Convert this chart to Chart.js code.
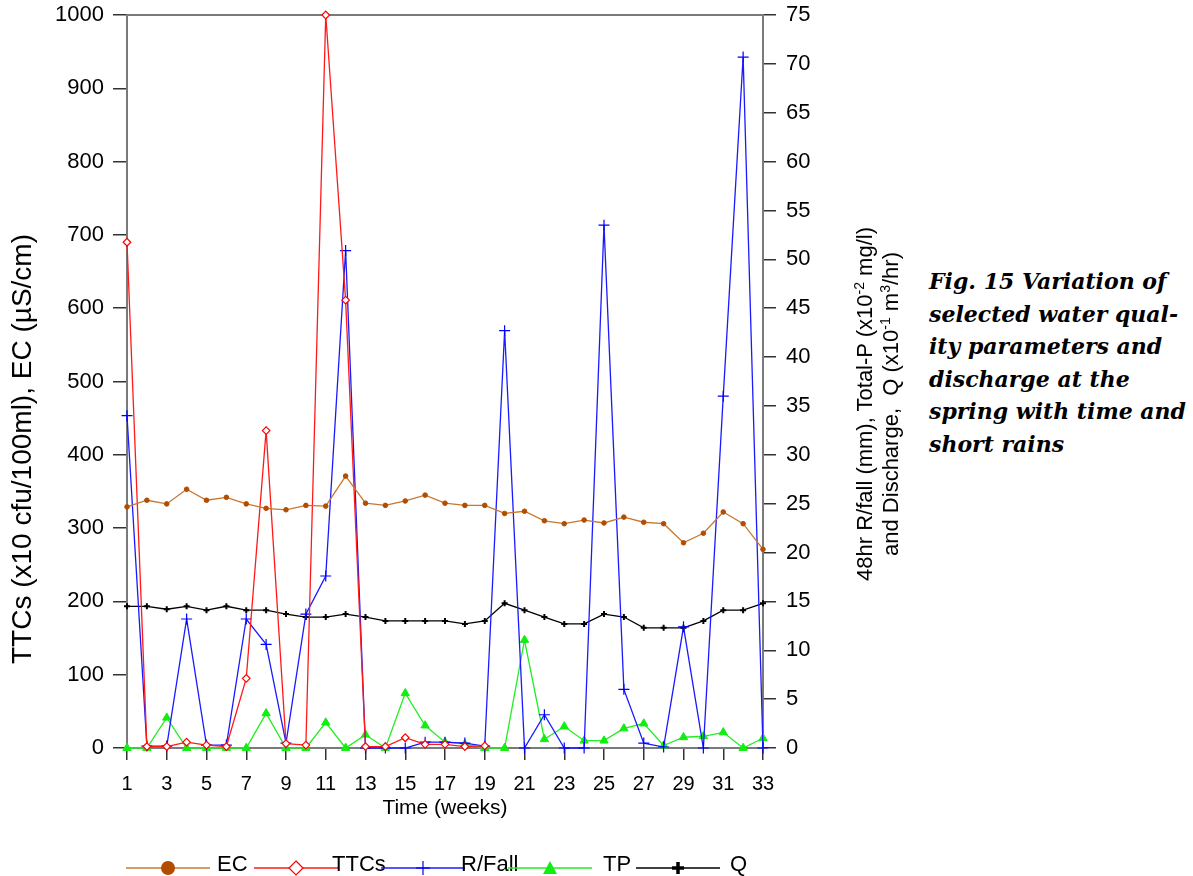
<!DOCTYPE html>
<html>
<head>
<meta charset="utf-8">
<script src="https://cdn.jsdelivr.net/npm/chart.js@4.4.1/dist/chart.umd.min.js"></script>
<style>
  body { margin: 0; background: #fff; font-family: "Liberation Sans", Arial, sans-serif; }
  #wrap { position: relative; width: 1193px; height: 876px; overflow: hidden; }
  #chart { position: absolute; left: 0; top: 0; }
  #leftTitle {
    position: absolute; width: 540px; left: -248px; top: 433px;
    font-size: 28px; line-height: 32px; text-align: center; color: #000;
    transform: rotate(-90deg); white-space: nowrap;
  }
  #rightTitle {
    position: absolute; width: 460px; left: 648px; top: 378px;
    font-size: 22px; line-height: 26px; text-align: center; color: #000;
    transform: rotate(-90deg); white-space: nowrap;
  }
  #rightTitle sup { font-size: 14px; line-height: 0; }
  #note {
    position: absolute; left: 929px; top: 265px; width: 270px;
    font-family: "DejaVu Serif", "Liberation Serif", serif;
    font-weight: bold; font-style: italic; font-size: 22px; line-height: 32.6px;
    color: #000; white-space: nowrap;
  }
  .lg-line { position: absolute; }
  .lg-text { position: absolute; font-size: 22px; line-height: 24px; color: #000; }
</style>
</head>
<body>
<div id="wrap">
  <canvas id="chart" width="920" height="876"></canvas>
  <div id="leftTitle">TTCs (x10 cfu/100ml), EC (&micro;S/cm)</div>
  <div id="rightTitle">48hr R/fall (mm), Total-P (x10<sup>-2</sup> mg/l)<br>and Discharge,&nbsp; Q (x10<sup>-1</sup> m<sup>3</sup>/hr)</div>
  <div id="note">Fig. 15 Variation of<br>selected water qual-<br>ity parameters and<br>discharge at the<br>spring with time and<br>short rains</div>
  <div id="legend"></div>
</div>
<script>
const weeks = [1, 2, 3, 4, 5, 6, 7, 8, 9, 10, 11, 12, 13, 14, 15, 16, 17,
  18, 19, 20, 21, 22, 23, 24, 25, 26, 27, 28, 29, 30, 31, 32, 33];

// left axis: EC (uS/cm), TTCs (x10 cfu/100ml)
const ecValues = [329, 338, 333, 353, 338, 342, 333, 327, 325, 331, 330, 371, 334, 331, 337, 345, 334,
  331, 331, 320, 323, 310, 306, 311, 307, 315, 308, 306, 280, 293, 322, 306, 271];
const ttcValues = [690, 2, 2, 8, 4, 2, 95, 433, 6, 4, 1000, 611, 2, 2, 14, 5, 5,
  2, 3, null, null, null, null, null, null, null, null, null, null, null, null, null, null];

// right axis: rainfall (mm), total P (x10^-2 mg/l), Q (x10^-1 m3/hr)
const rainValues = [34, 0.2, 0.2, 13.2, 0.3, 0.3, 13.2, 10.6, 0.5, 13.7, 17.6, 50.9, 0, 0, 0, 0.6, 0.6,
  0.5, 0.2, 42.7, 0, 3.4, 0, 0, 53.5, 6.0, 0.5, 0.1, 12.4, 0, 36, 70.7, 0];
const tpValues = [0, 0, 3.1, 0, 0, 0, 0, 3.55, 0, 0, 2.6, 0, 1.36, 0, 5.6, 2.3, 0.6,
  0.4, 0, 0, 11.05, 0.9, 2.2, 0.75, 0.75, 2.0, 2.5, 0.25, 1.1, 1.2, 1.6, 0, 1.0];
const qValues = [14.5, 14.5, 14.2, 14.5, 14.1, 14.5, 14.1, 14.1, 13.7, 13.4, 13.4, 13.7, 13.4, 13.0, 13.0, 13.0, 13.0,
  12.7, 13.0, 14.8, 14.1, 13.4, 12.7, 12.7, 13.7, 13.4, 12.3, 12.3, 12.3, 13.0, 14.1, 14.1, 14.8];

const leftTicks = { min: 0, max: 1000, step: 100 };
const rightTicks = { min: 0, max: 75, step: 5 };

function toPoints(values) {
  return values.map((v, i) => ({ x: weeks[i], y: v }));
}

const series = [
  { label: 'EC', values: ecValues, axis: 'yL', line: '#c8782e', mark: '#b24c00', style: 'circle', r: 2.3, bw: 1, fillMark: true },
  { label: 'TTCs', values: ttcValues, axis: 'yL', line: '#ff1a1a', mark: '#ff0000', style: 'rectRot', r: 3.8, bw: 1.2, fillMark: false },
  { label: 'R/Fall', values: rainValues, axis: 'yR', line: '#1a1aff', mark: '#0000ff', style: 'cross', r: 5.5, bw: 1.2, fillMark: false },
  { label: 'TP', values: tpValues, axis: 'yR', line: '#22ee22', mark: '#11ee11', style: 'triangle', r: 4.8, bw: 1, fillMark: true },
  { label: 'Q', values: qValues, axis: 'yR', line: '#000000', mark: '#000000', style: 'cross', r: 3, bw: 2, fillMark: true }
];

const framePlugin = {
  id: 'frame',
  beforeDatasetsDraw(chart) {
    const { ctx, chartArea: a } = chart;
    ctx.save();
    ctx.strokeStyle = '#7a7a7a';
    ctx.lineWidth = 2;
    ctx.strokeRect(a.left, a.top, a.right - a.left, a.bottom - a.top);
    ctx.restore();
  }
};

function fitVertical(width) {
  return scale => {
    scale.width = width;
    scale.paddingTop = 0;
    scale.paddingBottom = 0;
  };
}

Chart.defaults.font.family = "'Liberation Sans', Arial, sans-serif";
Chart.defaults.color = '#000';

const ctx = document.getElementById('chart').getContext('2d');
new Chart(ctx, {
  type: 'line',
  data: {
    datasets: series.map(s => ({
      label: s.label,
      data: toPoints(s.values),
      yAxisID: s.axis,
      borderColor: s.line,
      borderWidth: 1.3,
      tension: 0,
      spanGaps: false,
      clip: false,
      pointStyle: s.style,
      pointRadius: s.r,
      pointHoverRadius: s.r,
      pointBorderColor: s.mark,
      pointBackgroundColor: s.fillMark ? s.mark : '#ffffff',
      pointBorderWidth: s.bw
    }))
  },
  options: {
    responsive: false,
    animation: false,
    layout: { padding: { top: 15, bottom: 55, left: 0, right: 0 } },
    plugins: { legend: { display: false }, tooltip: { enabled: false } },
    scales: {
      x: {
        type: 'linear',
        min: 1,
        max: 33,
        afterFit(scale) { scale.height = 73; },
        border: { display: false },
        grid: { drawOnChartArea: false, drawTicks: true, tickLength: 12, color: '#333', lineWidth: 1.5 },
        ticks: { stepSize: 2, autoSkip: false, maxRotation: 0, padding: 12, font: { size: 20 } },
        title: { display: true, text: 'Time (weeks)', font: { size: 21 }, padding: { top: 0, bottom: 0 } }
      },
      yL: {
        position: 'left',
        min: leftTicks.min,
        max: leftTicks.max,
        afterFit: fitVertical(127),
        border: { display: false },
        grid: { drawOnChartArea: false, drawTicks: true, tickLength: 14, color: '#333', lineWidth: 1.5 },
        ticks: { stepSize: leftTicks.step, padding: 9, font: { size: 22 }, callback: v => String(v) }
      },
      yR: {
        position: 'right',
        min: rightTicks.min,
        max: rightTicks.max,
        afterFit: fitVertical(157),
        border: { display: false },
        grid: { drawOnChartArea: false, drawTicks: true, tickLength: 13, color: '#333', lineWidth: 1.5 },
        ticks: { stepSize: rightTicks.step, padding: 10, font: { size: 22 }, callback: v => String(v) }
      }
    }
  },
  plugins: [framePlugin]
});

// legend: line segment with marker in the middle, then the label
const legendPos = [
  { line: 126, text: 217 },
  { line: 254, text: 332 },
  { line: 381, text: 461 },
  { line: 508, text: 603 },
  { line: 636, text: 730 }
];
const legendY = 866;

function markerSvg(s) {
  const cx = 42, cy = 9;
  if (s.style === 'circle') return `<circle cx="${cx}" cy="${cy}" r="7" fill="${s.mark}"/>`;
  if (s.style === 'rectRot') return `<polygon points="${cx},${cy - 7} ${cx + 7},${cy} ${cx},${cy + 7} ${cx - 7},${cy}" fill="#fff" stroke="${s.mark}" stroke-width="1.2"/>`;
  if (s.style === 'triangle') return `<polygon points="${cx},${cy - 7} ${cx + 7},${cy + 6} ${cx - 7},${cy + 6}" fill="${s.mark}"/>`;
  const w = s.label === 'Q' ? 3.5 : 1.2;
  const h = s.label === 'Q' ? 6 : 7;
  return `<line x1="${cx - h}" y1="${cy}" x2="${cx + h}" y2="${cy}" stroke="${s.mark}" stroke-width="${w}"/>` +
    `<line x1="${cx}" y1="${cy - h}" x2="${cx}" y2="${cy + h}" stroke="${s.mark}" stroke-width="${w}"/>`;
}

const legend = document.getElementById('legend');
series.forEach((s, i) => {
  const p = legendPos[i];
  const line = document.createElement('div');
  line.className = 'lg-line';
  line.style.left = p.line + 'px';
  line.style.top = (legendY - 7) + 'px';
  line.innerHTML = `<svg width="84" height="18"><line x1="0" y1="9" x2="84" y2="9" stroke="${s.line}" stroke-width="1.3"/>${markerSvg(s)}</svg>`;
  legend.appendChild(line);
  const text = document.createElement('div');
  text.className = 'lg-text';
  text.style.left = p.text + 'px';
  text.style.top = (legendY - 14) + 'px';
  text.textContent = s.label;
  legend.appendChild(text);
});
</script>
</body>
</html>
